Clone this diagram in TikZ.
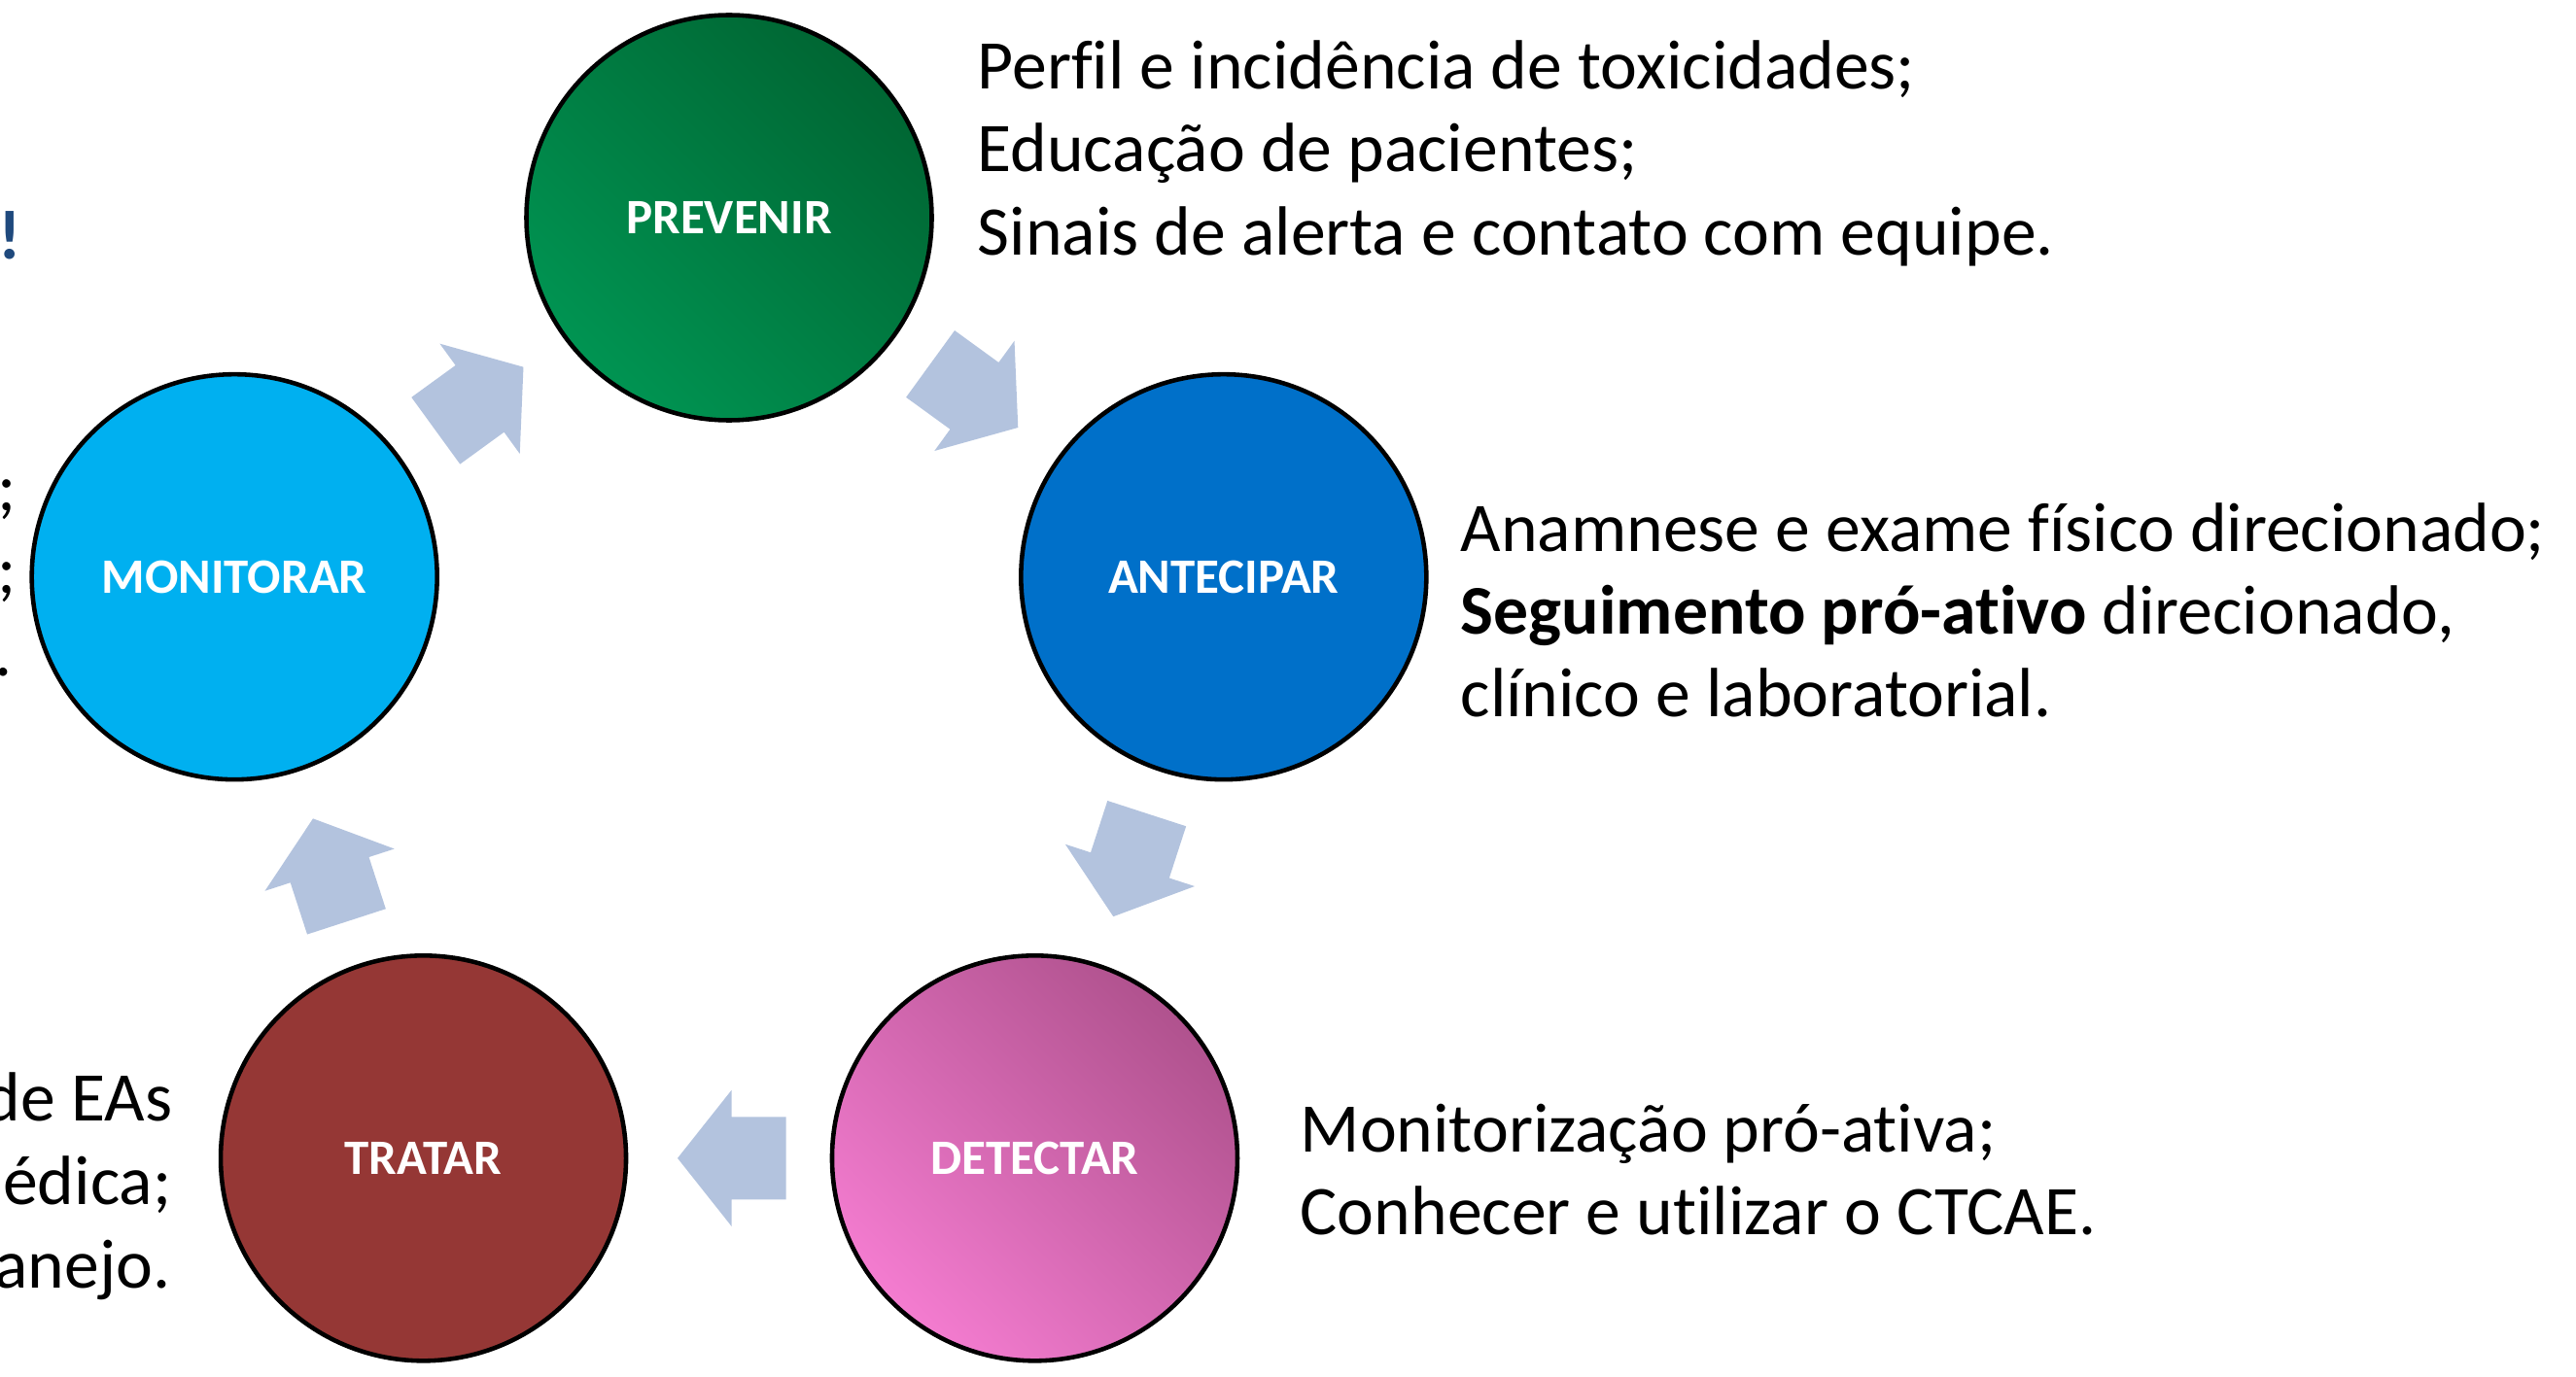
\documentclass[tikz,border=0pt]{standalone}
\usepackage{fontspec}
\setmainfont{Carlito}[Ligatures=NoCommon]
\usetikzlibrary{calc}
\definecolor{prevL}{RGB}{0,148,82}
\definecolor{prevD}{RGB}{0,102,51}
\definecolor{antec}{RGB}{0,112,201}
\definecolor{detL}{RGB}{244,124,208}
\definecolor{detD}{RGB}{176,82,142}
\definecolor{tratc}{RGB}{149,55,53}
\definecolor{monic}{RGB}{0,176,240}
\definecolor{arrowc}{RGB}{179,195,222}
\definecolor{titleblue}{RGB}{31,73,125}
\tikzset{
  stage/.style={circle, draw=black, line width=1.3pt, minimum size=4.17cm, inner sep=0pt,
    text=white, font=\fontsize{14.5pt}{17pt}\selectfont\bfseries},
  body/.style={inner sep=0pt, font=\fontsize{20.4pt}{24pt}\selectfont, text=black},
  blockarrow/.style={fill=arrowc, draw=none},
}
\newcommand\cyclearrow[2]{%
  \pgfmathanglebetweenpoints{\pgfpointanchor{#1}{center}}{\pgfpointanchor{#2}{center}}%
  \let\arrang\pgfmathresult
  \begin{scope}[shift={($(#1)!0.5!(#2)$)}, rotate=\arrang]
    \fill[blockarrow] (0.53,0) -- (-0.025,0.70) -- (-0.025,0.425) -- (-0.585,0.425)
      -- (-0.585,-0.425) -- (-0.025,-0.425) -- (-0.025,-0.70) -- cycle;
  \end{scope}}
\begin{document}
\begin{tikzpicture}
\useasboundingbox (0,0) rectangle (26.5,14.16);
\clip (0,0) rectangle (26.5,14.16);
\coordinate (ctr) at (7.50,6.57);
\node[stage, top color=prevD, bottom color=prevL, shading angle=-45] (prevenir) at ($(ctr)+(90:5.35)$) {PREVENIR};
\node[stage, fill=antec] (antecipar) at ($(ctr)+(18:5.35)$) {ANTECIPAR};
\node[stage, top color=detD, bottom color=detL, shading angle=-45] (detectar) at ($(ctr)+(-54:5.35)$) {DETECTAR};
\node[stage, fill=tratc] (tratar) at ($(ctr)+(-126:5.35)$) {TRATAR};
\node[stage, fill=monic] (monitorar) at ($(ctr)+(162:5.35)$) {MONITORAR};

\cyclearrow{prevenir}{antecipar}
\cyclearrow{antecipar}{detectar}
\cyclearrow{detectar}{tratar}
\cyclearrow{tratar}{monitorar}
\cyclearrow{monitorar}{prevenir}

\node[body, anchor=base west] (pa) at (10.05,13.24) {Perfil e incidência de toxicidades;};
\node[body, anchor=base west] (pb) at (10.05,12.39) {Educação de pacientes;};
\node[body, anchor=base west] (pc) at (10.05,11.54) {Sinais de alerta e contato com equipe.};

\node[body, anchor=base west] (aa) at (15.02,8.49) {Anamnese e exame físico direcionado;};
\node[body, anchor=base west] (ab) at (15.02,7.64) {\textbf{Seguimento pró-ativo} direcionado,};
\node[body, anchor=base west] (ac) at (15.02,6.79) {clínico e laboratorial.};

\node[body, anchor=base west] (da) at (13.37,2.31) {Monitorização pró-ativa;};
\node[body, anchor=base west] (db) at (13.37,1.46) {Conhecer e utilizar o CTCAE.};

\node[body, anchor=base east] (ta) at (1.78,2.63) {de EAs};
\node[body, anchor=base east] (tb) at (1.77,1.77) {édica;};
\node[body, anchor=base east] (tc) at (1.76,0.91) {anejo.};

\node[body, anchor=base east] (ma) at (0.17,8.91) {;};
\node[body, anchor=base east] (mb) at (0.17,8.06) {;};
\node[body, anchor=base east] (mc) at (0.13,7.21) {.};
\node[body, anchor=base east, text=titleblue, font=\fontsize{20.4pt}{24pt}\selectfont\bfseries] (ex) at (0.23,11.50) {!};
\end{tikzpicture}
\end{document}
